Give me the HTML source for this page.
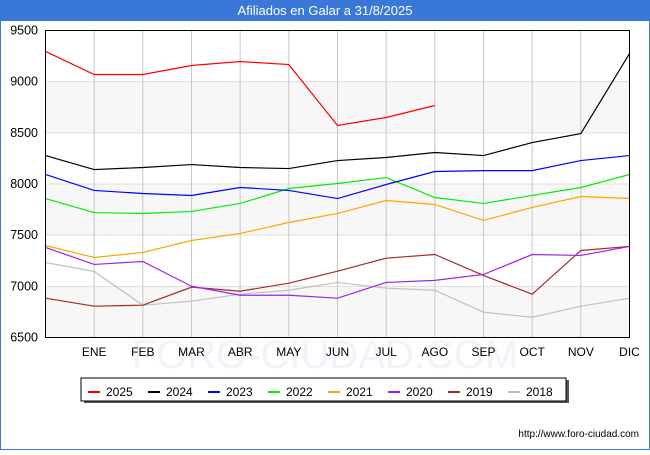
<!DOCTYPE html>
<html><head><meta charset="utf-8"><style>
body{margin:0;width:650px;height:450px;background:#fff;font-family:"Liberation Sans","DejaVu Sans",sans-serif;overflow:hidden}
</style></head><body>
<svg width="650" height="450" id="svg" font-family="Liberation Sans, DejaVu Sans, sans-serif">
<rect x="0" y="0" width="650" height="450" fill="#fff" stroke="#3a78d8" stroke-width="2"/>
<rect x="0" y="0" width="650" height="21" fill="#3a78d8"/>
<text x="325" y="15" text-anchor="middle" fill="#fff" font-size="13">Afiliados en Galar a 31/8/2025</text>
<text x="325" y="368" text-anchor="middle" font-size="40" fill="#f1f2fa">FORO-CIUDAD.COM</text>
<g id="plot"></g>
<rect x="84" y="380" width="485" height="23" fill="#555"/>
<rect x="81" y="378" width="485" height="23" fill="#fff" stroke="#000" stroke-width="1"/>
<g id="legend"></g>
<text x="639" y="437" text-anchor="end" font-size="10" fill="#000">http://www.foro-ciudad.com</text>
</svg>
<script>
const months=["","ENE","FEB","MAR","ABR","MAY","JUN","JUL","AGO","SEP","OCT","NOV","DIC"];
const yTicks=[6500,7000,7500,8000,8500,9000,9500];
const years=["2025","2024","2023","2022","2021","2020","2019","2018"];
const colors=["#ff0000","#000000","#0000ff","#00ee00","#ffa500","#a020f0","#a52a2a","#c0c0c0"];
const s2025=[9295,9070,9070,9158,9197,9167,8572,8650,8767];
const s2024=[8278,8141,8161,8190,8161,8151,8229,8259,8308,8278,8405,8493,9275];
const s2023=[8093,7937,7907,7888,7966,7937,7858,7995,8122,8131,8131,8229,8278];
const s2022=[7858,7721,7712,7732,7810,7956,8005,8063,7868,7810,7888,7966,8093];
const s2021=[7399,7282,7331,7448,7517,7624,7712,7839,7800,7644,7771,7878,7858];
const s2020=[7380,7214,7243,7001,6913,6913,6884,7038,7058,7116,7311,7302,7390];
const s2019=[6884,6806,6816,6992,6952,7031,7148,7275,7311,7106,6923,7350,7390];
const s2018=[7233,7145,6816,6855,6923,6962,7038,6982,6962,6747,6698,6806,6884];
const series=[s2025,s2024,s2023,s2022,s2021,s2020,s2019,s2018];
const NS="http://www.w3.org/2000/svg";
const X0=45.5,X1=629.5,Y0=337.5,Y1=30.5;
const xs=i=>X0+(X1-X0)*i/12;
const ys=v=>Y0-(v-6500)/3000*(Y0-Y1);
const g=document.getElementById('plot');
function mk(t,a,p){const e=document.createElementNS(NS,t);for(const k in a)e.setAttribute(k,a[k]);(p||g).appendChild(e);return e;}
for(let i=0;i<yTicks.length-1;i+=2){const r=mk('rect',{x:X0,y:ys(yTicks[i+1]),width:X1-X0,height:ys(yTicks[i])-ys(yTicks[i+1]),fill:'#f7f7f7'});

}
yTicks.forEach(v=>{const l=mk('line',{x1:X0,x2:X1,y1:ys(v),y2:ys(v),stroke:'#dddddd'});


const t=mk('text',{x:38,y:ys(v)+4,'text-anchor':'end','font-size':'12.5',fill:'#000'});t.textContent=v;

});
months.forEach((m,i)=>{if(i>0){const l=mk('line',{x1:xs(i),x2:xs(i),y1:Y1,y2:Y0,stroke:'#c8c8c8'});

}
if(m){const t=mk('text',{x:xs(i),y:356,'text-anchor':'middle','font-size':'12',fill:'#000'});t.textContent=m;

}});
for(let k=series.length-1;k>=0;k--){const pts=series[k].map((v,i)=>xs(i)+','+ys(v)).join(' ');
const p=mk('polyline',{points:pts,fill:'none',stroke:colors[k],'stroke-width':1.2});

}
const fr=mk('rect',{x:X0,y:Y1,width:X1-X0,height:Y0-Y1,fill:'none',stroke:'#000'});


const lg=document.getElementById('legend');
years.forEach((y,i)=>{const x=88+i*60;
const l=mk('line',{x1:x,x2:x+12,y1:392,y2:392,stroke:colors[i],'stroke-width':2},lg);


const t=mk('text',{x:x+18,y:396,'font-size':'12',fill:'#000'},lg);t.textContent=y;

});
</script>
</body></html>
